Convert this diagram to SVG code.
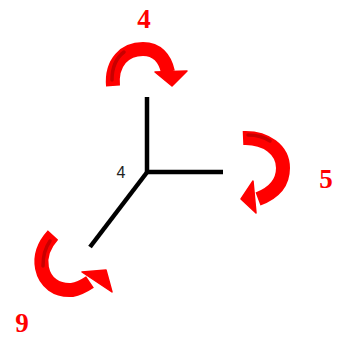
<svg xmlns="http://www.w3.org/2000/svg" width="339" height="340" viewBox="0 0 339 340">
<style>
.bond{stroke:#000;stroke-width:4.5;fill:none;stroke-linecap:butt}
.shaft{stroke:#ff0000;stroke-width:14;fill:none;stroke-linecap:butt}
.hl{stroke:#c80000;stroke-width:3.5;fill:none;stroke-linecap:round}
.head{fill:#ff0000;stroke:#ff0000;stroke-width:1.5;stroke-linejoin:round}
.num{font-family:"Liberation Serif",serif;font-weight:bold;font-size:27px;fill:#ff0000;text-anchor:middle}
.atom{font-family:"Liberation Sans",Arial,sans-serif;font-size:16px;fill:#222;text-anchor:middle}
</style>
<rect width="339" height="340" fill="#fff"/>
<g id="connectors">
<line class="bond" x1="147" y1="97" x2="147" y2="174"/>
<line class="bond" x1="145" y1="172" x2="223" y2="172"/>
<line class="bond" x1="148" y1="171" x2="90" y2="247"/>
</g>
<g id="center">
<text class="atom" x="121" y="178">4</text>
</g>
<g id="arrow-top">
<path class="shaft" d="M113,86 C111,62 125,49 143,49 C157,49 165,58 168,72"/>
<path class="hl" d="M112,80 C112,68 116,58 124,52"/>
<polygon class="head" points="155,72 187,71 172,86"/>
<text class="num" x="144" y="28">4</text>
</g>
<g id="arrow-right">
<path class="shaft" d="M243,138 C266,137 283,150 283,168 C283,183 274,193 258,199"/>
<path class="hl" d="M248,135 C256,135 264,137 270,141"/>
<polygon class="head" points="253,181 256,213 241,199"/>
<text class="num" x="326" y="188">5</text>
</g>
<g id="arrow-bottom">
<path class="shaft" d="M53,235 C43,246 40,258 42,268 C45,283 57,291 72,290 C78,289 84,286 90,282"/>
<path class="hl" d="M50,241 C45,248 43,258 43,266"/>
<polygon class="head" points="82,272 106,270 112,292"/>
<text class="num" x="22" y="332">9</text>
</g>
</svg>
